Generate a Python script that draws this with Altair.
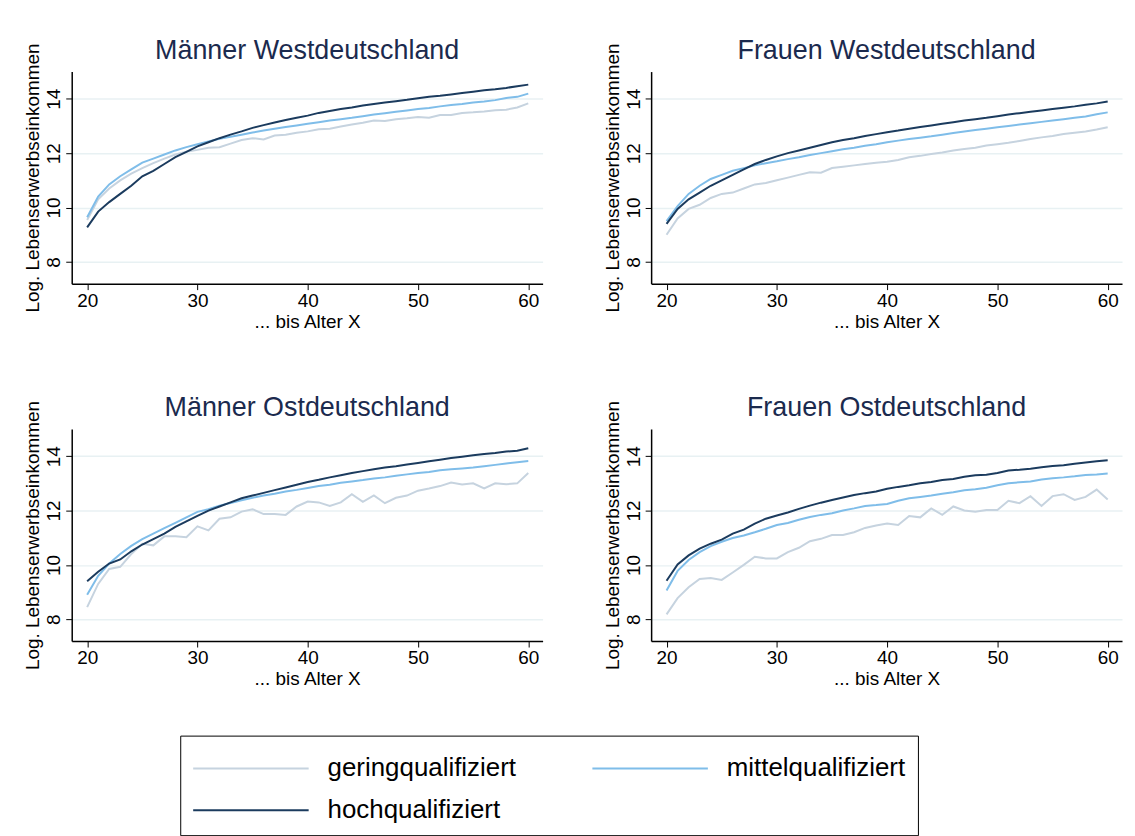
import pandas as pd
import altair as alt

ages = list(range(20, 61))
groups = ["geringqualifiziert", "mittelqualifiziert", "hochqualifiziert"]
colors = ["#c6d3df", "#7fbde9", "#1b3b5e"]

# Männer Westdeutschland
mw_gering = [9.54, 10.3, 10.7, 11.0, 11.25, 11.45, 11.63, 11.8, 11.95, 12.05, 12.12, 12.2, 12.22, 12.35, 12.48, 12.55, 12.5, 12.65, 12.68, 12.75, 12.8,
             12.88, 12.9, 12.98, 13.05, 13.12, 13.2, 13.18, 13.25, 13.28, 13.33, 13.3, 13.4, 13.4, 13.48, 13.5, 13.53, 13.58, 13.6, 13.68, 13.83]
mw_mittel = [9.64, 10.4, 10.85, 11.15, 11.4, 11.65, 11.8, 11.95, 12.1, 12.22, 12.33, 12.43, 12.53, 12.6, 12.68, 12.76, 12.83, 12.9, 12.96, 13.02, 13.08,
             13.14, 13.2, 13.25, 13.3, 13.36, 13.42, 13.47, 13.52, 13.57, 13.62, 13.66, 13.72, 13.77, 13.81, 13.86, 13.9, 13.95, 14.03, 14.07, 14.19]
mw_hoch = [9.27, 9.85, 10.2, 10.5, 10.8, 11.15, 11.35, 11.6, 11.85, 12.05, 12.25, 12.4, 12.55, 12.68, 12.8, 12.93, 13.03, 13.13, 13.22, 13.3, 13.38,
           13.48, 13.55, 13.62, 13.68, 13.75, 13.81, 13.86, 13.91, 13.96, 14.02, 14.07, 14.11, 14.16, 14.21, 14.26, 14.31, 14.35, 14.4, 14.46, 14.52]

# Frauen Westdeutschland
fw_gering = [9.0, 9.6, 9.95, 10.1, 10.35, 10.5, 10.55, 10.7, 10.85, 10.9, 11.0, 11.1, 11.2, 11.3, 11.28, 11.45, 11.5, 11.55, 11.6, 11.65, 11.68,
             11.75, 11.85, 11.9, 11.97, 12.02, 12.1, 12.15, 12.2, 12.28, 12.33, 12.38, 12.45, 12.52, 12.58, 12.63, 12.7, 12.75, 12.8, 12.87, 12.95]
fw_mittel = [9.5, 10.05, 10.5, 10.8, 11.05, 11.2, 11.35, 11.45, 11.55, 11.63, 11.7, 11.78, 11.85, 11.93, 12.0, 12.07, 12.14, 12.2, 12.27, 12.33, 12.4,
             12.46, 12.52, 12.57, 12.62, 12.68, 12.74, 12.8, 12.85, 12.9, 12.95, 13.0, 13.05, 13.1, 13.15, 13.2, 13.25, 13.3, 13.35, 13.43, 13.5]
fw_hoch = [9.4, 9.95, 10.3, 10.55, 10.8, 11.0, 11.2, 11.4, 11.6, 11.75, 11.88, 12.0, 12.1, 12.2, 12.3, 12.4, 12.48, 12.55, 12.63, 12.7, 12.77,
           12.83, 12.9, 12.96, 13.02, 13.08, 13.14, 13.2, 13.25, 13.3, 13.36, 13.42, 13.47, 13.52, 13.57, 13.62, 13.67, 13.72, 13.78, 13.83, 13.9]

# Männer Ostdeutschland
mo_gering = [8.45, 9.3, 9.85, 9.93, 10.4, 10.78, 10.72, 11.05, 11.05, 11.02, 11.42, 11.27, 11.7, 11.75, 11.96, 12.05, 11.87, 11.87, 11.84, 12.15, 12.33,
             12.3, 12.17, 12.3, 12.6, 12.32, 12.56, 12.27, 12.47, 12.55, 12.73, 12.81, 12.9, 13.03, 12.96, 13.0, 12.81, 13.0, 12.97, 13.0, 13.38]
mo_mittel = [8.9, 9.6, 10.05, 10.4, 10.7, 10.95, 11.15, 11.35, 11.55, 11.75, 11.95, 12.05, 12.18, 12.28, 12.38, 12.47, 12.55, 12.62, 12.7, 12.76, 12.83,
             12.9, 12.95, 13.02, 13.07, 13.12, 13.18, 13.22, 13.28, 13.33, 13.38, 13.42, 13.48, 13.52, 13.55, 13.58, 13.63, 13.68, 13.73, 13.78, 13.82]
mo_hoch = [9.4, 9.75, 10.05, 10.2, 10.5, 10.75, 10.95, 11.15, 11.4, 11.6, 11.8, 12.0, 12.15, 12.3, 12.45, 12.55, 12.65, 12.75, 12.85, 12.95, 13.05,
           13.13, 13.22, 13.3, 13.38, 13.45, 13.52, 13.58, 13.63, 13.69, 13.75, 13.81, 13.87, 13.93, 13.98, 14.03, 14.08, 14.12, 14.17, 14.2, 14.29]

# Frauen Ostdeutschland
fo_gering = [8.18, 8.78, 9.18, 9.48, 9.52, 9.45, 9.72, 10.0, 10.3, 10.24, 10.24, 10.47, 10.63, 10.87, 10.96, 11.1, 11.1, 11.2, 11.36, 11.45, 11.52,
             11.47, 11.8, 11.75, 12.08, 11.84, 12.15, 12.0, 11.96, 12.02, 12.02, 12.36, 12.27, 12.53, 12.17, 12.53, 12.6, 12.39, 12.5, 12.77, 12.41]
fo_mittel = [9.06, 9.78, 10.18, 10.47, 10.69, 10.85, 10.99, 11.08, 11.2, 11.33, 11.47, 11.54, 11.66, 11.76, 11.84, 11.9, 12.0, 12.08, 12.17, 12.2, 12.24,
             12.36, 12.45, 12.5, 12.55, 12.62, 12.67, 12.75, 12.78, 12.84, 12.93, 13.0, 13.04, 13.07, 13.14, 13.19, 13.22, 13.26, 13.31, 13.33, 13.36]
fo_hoch = [9.42, 10.02, 10.35, 10.6, 10.78, 10.93, 11.15, 11.3, 11.52, 11.7, 11.82, 11.93, 12.06, 12.18, 12.29, 12.39, 12.48, 12.57, 12.64, 12.7, 12.8,
           12.87, 12.93, 13.0, 13.05, 13.12, 13.16, 13.24, 13.3, 13.32, 13.38, 13.47, 13.5, 13.54, 13.59, 13.64, 13.67, 13.72, 13.77, 13.81, 13.85]

panels = {
    "Männer Westdeutschland": [mw_gering, mw_mittel, mw_hoch],
    "Frauen Westdeutschland": [fw_gering, fw_mittel, fw_hoch],
    "Männer Ostdeutschland": [mo_gering, mo_mittel, mo_hoch],
    "Frauen Ostdeutschland": [fo_gering, fo_mittel, fo_hoch],
}

FONT = "Liberation Sans"


def make_panel(title, series):
    rows = []
    for g, vals in zip(groups, series):
        for a, v in zip(ages, vals):
            rows.append({"age": a, "value": v, "group": g})
    df = pd.DataFrame(rows)
    return alt.Chart(df).mark_line(strokeWidth=2).encode(
        alt.X("age:Q", title="... bis Alter X", scale=alt.Scale(domain=[18.6, 61.3], nice=False),
              axis=alt.Axis(values=[20, 30, 40, 50, 60], grid=False)),
        alt.Y("value:Q", title="Log. Lebenserwerbseinkommen", scale=alt.Scale(domain=[7.2, 15], nice=False),
              axis=alt.Axis(values=[8, 10, 12, 14], labelAngle=270, labelAlign="center", labelBaseline="bottom",
                            grid=True, gridColor="#e8f1f3", gridWidth=1.5)),
        alt.Color("group:N", scale=alt.Scale(domain=groups, range=colors),
                  legend=alt.Legend(title=None, orient="none", legendX=109, legendY=667,
                                    columns=2, direction="horizontal",
                                    symbolType="M-1,0H4.8", symbolSize=1600, symbolStrokeWidth=2,
                                    labelFontSize=26, labelFont=FONT, labelColor="#000000",
                                    columnPadding=72, rowPadding=8, padding=12, labelOffset=94,
                                    strokeColor="#000000", labelLimit=400)),
    ).properties(width=473, height=213,
                 title=alt.TitleParams(title, fontSize=27, font=FONT, fontWeight="normal", color="#1b2a4e", offset=-22))


charts = [make_panel(t, s) for t, s in panels.items()]
top = alt.hconcat(charts[0], charts[1], spacing=60)
bottom = alt.hconcat(charts[2], charts[3], spacing=60)
chart = alt.vconcat(top, bottom, spacing=63).properties(
    padding={"top": 27, "left": 15, "right": 5, "bottom": 5}
).configure_axis(
    labelFont=FONT, titleFont=FONT, labelFontSize=19, titleFontSize=19, titleFontWeight="normal",
    labelColor="#000000", titleColor="#000000", domainColor="#000000", tickColor="#000000",
    domainWidth=1.5, tickSize=6, titlePadding=2
).configure_view(stroke=None).configure_legend(
    strokeColor="#000000"
)

chart.save("out.html", embed_options={"renderer": "svg", "actions": False})
